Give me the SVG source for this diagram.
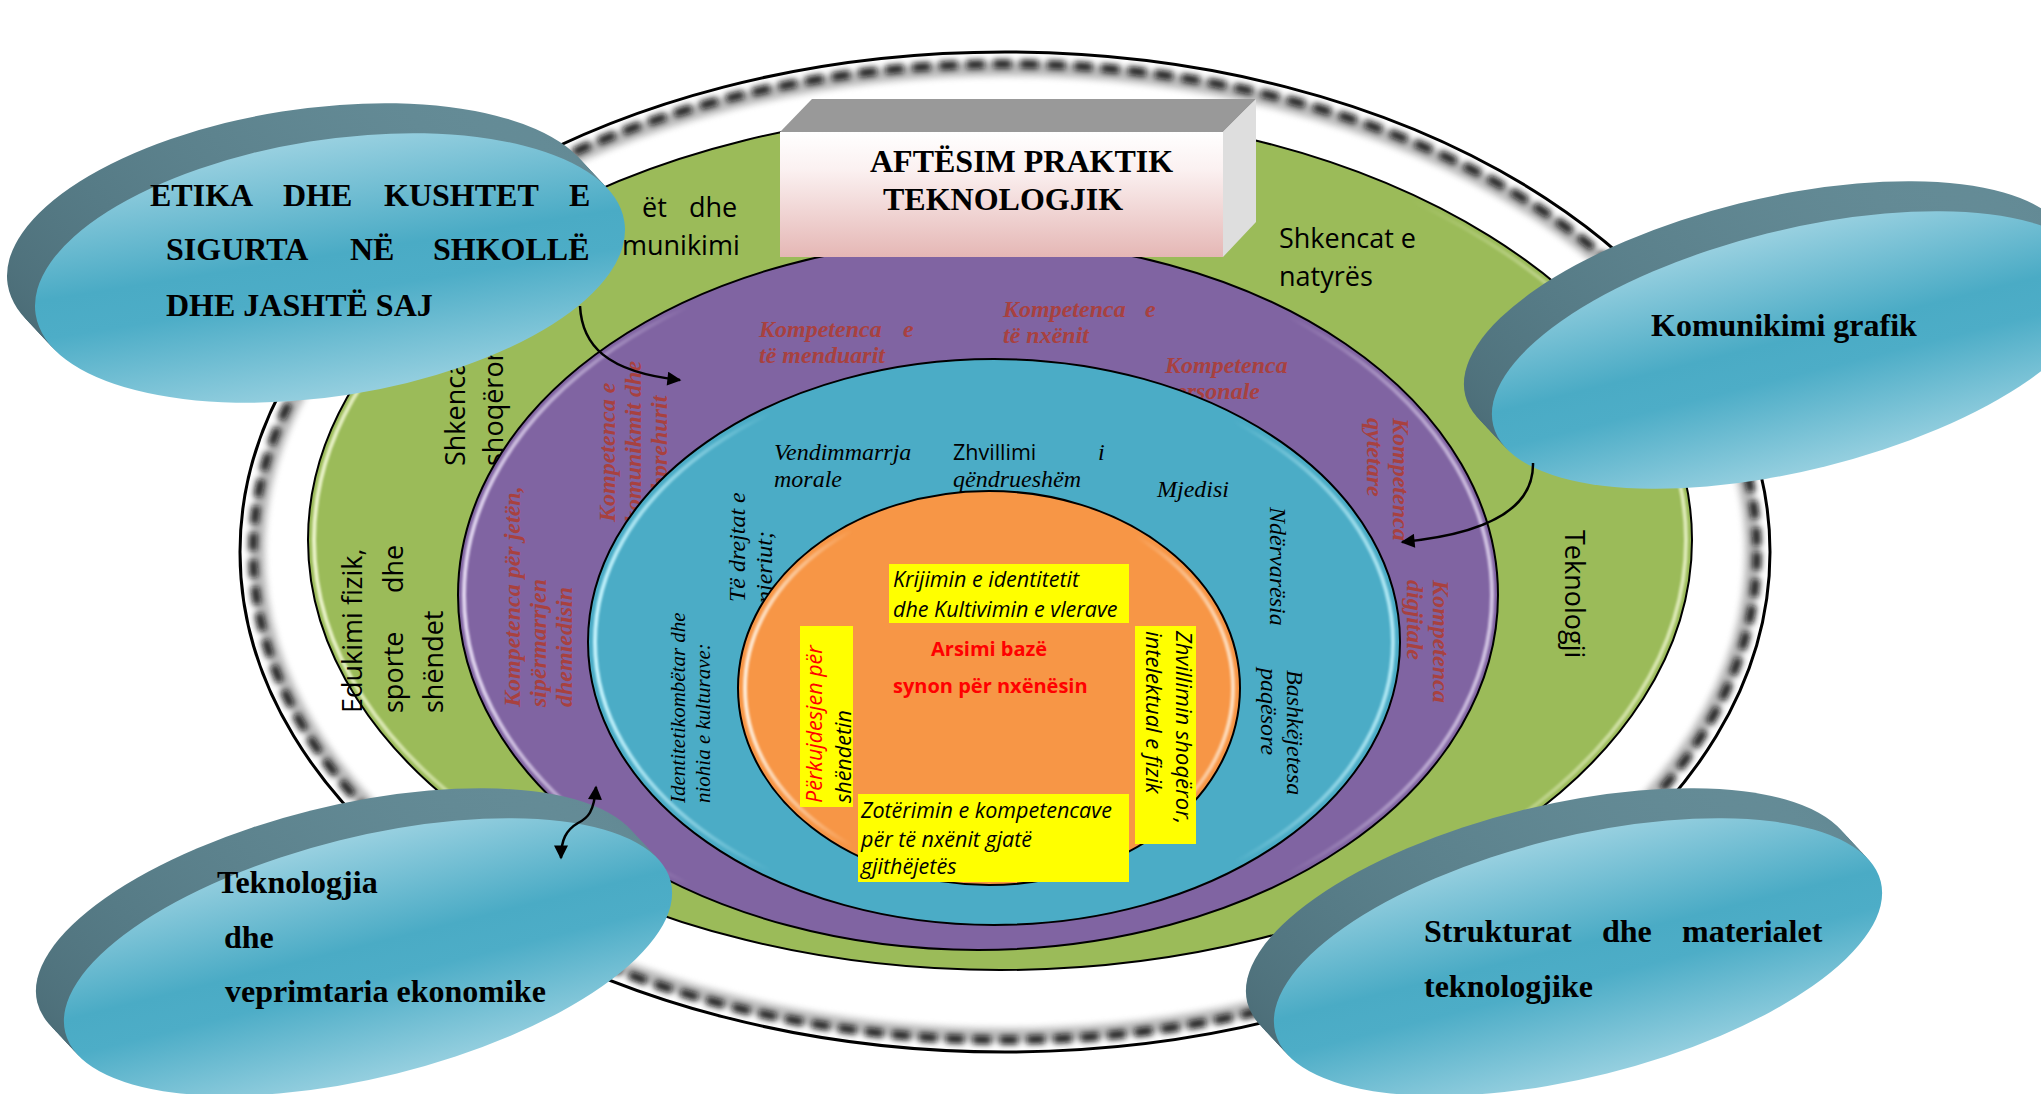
<svg xmlns="http://www.w3.org/2000/svg" width="2041" height="1094" viewBox="0 0 2041 1094">
<defs>
<style>
.bb{font-family:"Liberation Serif","Times New Roman",serif;font-weight:bold;font-size:32px;fill:#000}
.pk{font-family:"Liberation Serif","Times New Roman",serif;font-weight:bold;font-style:italic;font-size:24px;fill:#a8413f}
.bl{font-family:"Liberation Serif","Times New Roman",serif;font-style:italic;font-size:24px;fill:#000}
.bs{font-size:21px}
.gr{font-family:"Open Sans","Liberation Sans",sans-serif;font-size:27px;fill:#000}
.yi{font-family:"Open Sans","Liberation Sans",sans-serif;font-style:italic;font-size:21.5px;fill:#000}
.rc{font-family:"Open Sans","Liberation Sans",sans-serif;font-weight:bold;font-size:20px;fill:#ff0000}
.ring{stroke:#000;stroke-width:2}
.hl{fill:none;stroke-width:4}
.conn{fill:none;stroke:#000;stroke-width:2.5}
.yb{fill:#ffff00}
</style>
<filter id="blur1" x="-5%" y="-5%" width="110%" height="110%"><feGaussianBlur stdDeviation="1.2"/></filter>
<filter id="blur2" x="-5%" y="-5%" width="110%" height="110%"><feGaussianBlur stdDeviation="3"/></filter>
<linearGradient id="face" x1="0" y1="0" x2="0" y2="1">
<stop offset="0" stop-color="#98d0e0"/><stop offset="0.45" stop-color="#4aabc5"/><stop offset="0.6" stop-color="#4dadc7"/><stop offset="1" stop-color="#95cfdf"/>
</linearGradient>
<linearGradient id="side" x1="0" y1="1" x2="1" y2="0">
<stop offset="0" stop-color="#45646e"/><stop offset="0.5" stop-color="#567b86"/><stop offset="1" stop-color="#6a929d"/>
</linearGradient>
<linearGradient id="boxg" x1="0" y1="0" x2="0" y2="1">
<stop offset="0" stop-color="#ffffff"/><stop offset="0.3" stop-color="#fbf1f1"/><stop offset="1" stop-color="#e5b7b5"/>
</linearGradient>
<linearGradient id="hlG" x1="0" y1="0" x2="1" y2="0">
<stop offset="0" stop-color="#eef6cf" stop-opacity="0.95"/><stop offset="0.22" stop-color="#eef6cf" stop-opacity="0"/><stop offset="0.8" stop-color="#eef6cf" stop-opacity="0"/><stop offset="1" stop-color="#eef6cf" stop-opacity="0.8"/>
</linearGradient>
<linearGradient id="hlP" x1="0" y1="0" x2="1" y2="0">
<stop offset="0" stop-color="#e6dbf3" stop-opacity="0.95"/><stop offset="0.22" stop-color="#e6dbf3" stop-opacity="0"/><stop offset="0.8" stop-color="#e6dbf3" stop-opacity="0"/><stop offset="1" stop-color="#e6dbf3" stop-opacity="0.8"/>
</linearGradient>
<linearGradient id="hlB" x1="0" y1="0" x2="1" y2="0">
<stop offset="0" stop-color="#c8f6ff" stop-opacity="0.95"/><stop offset="0.22" stop-color="#c8f6ff" stop-opacity="0"/><stop offset="0.8" stop-color="#c8f6ff" stop-opacity="0"/><stop offset="1" stop-color="#c8f6ff" stop-opacity="0.8"/>
</linearGradient>
<linearGradient id="hlO" x1="0" y1="0" x2="1" y2="0">
<stop offset="0" stop-color="#fff0de" stop-opacity="0.95"/><stop offset="0.22" stop-color="#fff0de" stop-opacity="0"/><stop offset="0.8" stop-color="#fff0de" stop-opacity="0"/><stop offset="1" stop-color="#fff0de" stop-opacity="0.8"/>
</linearGradient>
<ellipse id="disk" cx="0" cy="0" rx="312" ry="120" transform="rotate(-14)"/>
<ellipse id="disk1" cx="0" cy="0" rx="298" ry="128" transform="rotate(-9)"/>
<g id="sidestack" fill="url(#side)">
<use href="#disk" x="-28" y="-30"/><use href="#disk" x="-24.5" y="-26.25"/><use href="#disk" x="-21" y="-22.5"/><use href="#disk" x="-17.5" y="-18.75"/><use href="#disk" x="-14" y="-15"/><use href="#disk" x="-10.5" y="-11.25"/><use href="#disk" x="-7" y="-7.5"/><use href="#disk" x="-3.5" y="-3.75"/>
</g>
<g id="sidestack1" fill="url(#side)">
<use href="#disk1" x="-28" y="-30"/><use href="#disk1" x="-24.5" y="-26.25"/><use href="#disk1" x="-21" y="-22.5"/><use href="#disk1" x="-17.5" y="-18.75"/><use href="#disk1" x="-14" y="-15"/><use href="#disk1" x="-10.5" y="-11.25"/><use href="#disk1" x="-7" y="-7.5"/><use href="#disk1" x="-3.5" y="-3.75"/>
</g>
<marker id="ah" viewBox="0 0 10 10" refX="9" refY="5" markerWidth="15" markerHeight="14" markerUnits="userSpaceOnUse" orient="auto-start-reverse">
<path d="M0,0 L10,5 L0,10 z" fill="#000"/>
</marker>
</defs>

<rect width="2041" height="1094" fill="#ffffff"/>

<g id="ring-outer">
<ellipse cx="1005" cy="552" rx="765" ry="500" fill="#ffffff" stroke="#000" stroke-width="3"/>
<ellipse cx="1005" cy="552" rx="747" ry="483" fill="none" stroke="#8a8a8a" stroke-width="14" filter="url(#blur2)" opacity="0.55"/>
<ellipse cx="1005" cy="552" rx="752" ry="488" fill="none" stroke="#111" stroke-width="8" stroke-dasharray="18 9" filter="url(#blur2)"/>
</g>

<g id="ring-green">
<ellipse class="ring" cx="1000" cy="540" rx="692" ry="430" fill="#9bbb59"/>
<ellipse class="hl" cx="1000" cy="540" rx="686" ry="424" stroke="url(#hlG)" filter="url(#blur1)"/>
<text class="gr" x="642" y="217">ët</text>
<text class="gr" x="689" y="217">dhe</text>
<text class="gr" x="622" y="255">munikimi</text>
<text class="gr" x="1279" y="248">Shkencat e</text>
<text class="gr" x="1279" y="286">natyrës</text>
<text class="gr" transform="translate(465,466) rotate(-90)">Shkencat</text>
<text class="gr" transform="translate(503,466) rotate(-90)">shoqërore</text>
<text class="gr" transform="translate(362,713) rotate(-90)">Edukimi fizik,</text>
<text class="gr" transform="translate(403,713) rotate(-90)">sporte</text>
<text class="gr" transform="translate(403,593) rotate(-90)">dhe</text>
<text class="gr" transform="translate(443,713) rotate(-90)">shëndet</text>
<text class="gr" transform="translate(1565,530) rotate(90)">Teknologji</text>
</g>

<g id="ring-purple">
<ellipse class="ring" cx="978" cy="595" rx="520" ry="355" fill="#8064a2"/>
<ellipse class="hl" cx="978" cy="595" rx="514" ry="349" stroke="url(#hlP)" filter="url(#blur1)"/>
<text class="pk" x="759" y="337">Kompetenca</text>
<text class="pk" x="903" y="337">e</text>
<text class="pk" x="759" y="363">të menduarit</text>
<text class="pk" x="1003" y="317">Kompetenca</text>
<text class="pk" x="1145" y="317">e</text>
<text class="pk" x="1003" y="343">të nxënit</text>
<text class="pk" x="1165" y="373">Kompetenca</text>
<text class="pk" x="1164" y="399">personale</text>
<text class="pk" transform="translate(1393,418) rotate(90)">Kompetenca</text>
<text class="pk" transform="translate(1367,418) rotate(90)">qytetare</text>
<text class="pk" transform="translate(1433,580) rotate(90)">Kompetenca</text>
<text class="pk" transform="translate(1407,580) rotate(90)">digjitale</text>
<text class="pk" transform="translate(615,522) rotate(-90)">Kompetenca e</text>
<text class="pk" transform="translate(641,523) rotate(-90)">komunikmit dhe</text>
<text class="pk" transform="translate(667,523) rotate(-90)">të shprehurit</text>
<text class="pk" transform="translate(520,707) rotate(-90)">Kompetenca për jetën,</text>
<text class="pk" transform="translate(546,707) rotate(-90)">sipërmarrjen</text>
<text class="pk" transform="translate(572,707) rotate(-90)">dhemiedisin</text>
</g>

<g id="ring-blue">
<ellipse class="ring" cx="994" cy="642" rx="406" ry="283" fill="#4bacc6"/>
<ellipse class="hl" cx="994" cy="642" rx="399" ry="276" stroke="url(#hlB)" filter="url(#blur1)"/>
<text class="bl" x="774" y="460">Vendimmarrja</text>
<text class="bl" x="774" y="487">morale</text>
<text class="gr" style="font-size:21.5px" x="953" y="460">Zhvillimi</text>
<text class="bl" x="1098" y="460">i</text>
<text class="bl" x="953" y="487">qëndrueshëm</text>
<text class="bl" x="1157" y="497">Mjedisi</text>
<text class="bl" transform="translate(1270,507) rotate(90)">Ndërvarësia</text>
<text class="bl" transform="translate(1287,670) rotate(90)">Bashkëjetesa</text>
<text class="bl" transform="translate(1261,668) rotate(90)">paqësore</text>
<text class="bl" transform="translate(745,602) rotate(-90)">Të drejtat e</text>
<text class="bl" transform="translate(772,603) rotate(-90)">njeriut;</text>
<text class="bl bs" transform="translate(685,803) rotate(-90)">Identitetikombëtar dhe</text>
<text class="bl bs" transform="translate(710,803) rotate(-90)">niohia e kulturave:</text>
</g>

<g id="ring-orange">
<ellipse class="ring" cx="989" cy="688" rx="251" ry="197" fill="#f79646"/>
<ellipse class="hl" cx="989" cy="688" rx="244" ry="190" stroke="url(#hlO)" filter="url(#blur1)"/>
<text class="rc" x="931" y="656">Arsimi bazë</text>
<text class="rc" x="893" y="693">synon për nxënësin</text>
</g>

<g id="box-krijimin">
<rect class="yb" x="889" y="564" width="240" height="59"/>
<text class="yi" x="893" y="587">Krijimin e identitetit</text>
<text class="yi" x="893" y="617">dhe Kultivimin e vlerave</text>
</g>
<g id="box-perkujdesjen">
<rect class="yb" x="800" y="626" width="53" height="181"/>
<text class="yi" style="fill:#ff0000" transform="translate(822,803) rotate(-90)">Përkujdesjen për</text>
<text class="yi" transform="translate(851,803) rotate(-90)">shëndetin</text>
</g>
<g id="box-zhvillimin">
<rect class="yb" x="1135" y="626" width="61" height="218"/>
<text class="yi" style="font-size:22px" transform="translate(1176,631) rotate(90)">Zhvillimin shoqëror,</text>
<text class="yi" style="font-size:22px" transform="translate(1146,631) rotate(90)">intelektual e fizik</text>
</g>
<g id="box-zoterimin">
<rect class="yb" x="858" y="794" width="271" height="88"/>
<text class="yi" x="861" y="818">Zotërimin e kompetencave</text>
<text class="yi" x="861" y="847">për të nxënit gjatë</text>
<text class="yi" x="861" y="874">gjithëjetës</text>
</g>

<g id="title-box">
<polygon points="780,132 812,99 1256,99 1223,132" fill="#999999"/>
<polygon points="1223,132 1256,99 1256,222 1223,257" fill="#dedede"/>
<rect x="780" y="132" width="443" height="125" fill="url(#boxg)"/>
<text class="bb" x="870" y="172">AFTËSIM PRAKTIK</text>
<text class="bb" x="883" y="210">TEKNOLOGJIK</text>
</g>

<g id="bubble-etika">
<use href="#sidestack1" x="330" y="268"/>
<use href="#disk1" x="330" y="268" fill="url(#face)"/>
<text class="bb" x="150" y="206">ETIKA</text>
<text class="bb" x="283" y="206">DHE</text>
<text class="bb" x="384" y="206">KUSHTET</text>
<text class="bb" x="569" y="206">E</text>
<text class="bb" x="166" y="260">SIGURTA</text>
<text class="bb" x="350" y="260">NË</text>
<text class="bb" x="433" y="260">SHKOLLË</text>
<text class="bb" x="166" y="316">DHE JASHTË SAJ</text>
</g>

<g id="bubble-grafik">
<use href="#sidestack" x="1796" y="350"/>
<use href="#disk" x="1796" y="350" fill="url(#face)"/>
<text class="bb" x="1651" y="336">Komunikimi grafik</text>
</g>

<g id="bubble-ekonomike">
<use href="#sidestack" x="368" y="957"/>
<use href="#disk" x="368" y="957" fill="url(#face)"/>
<text class="bb" x="217" y="893">Teknologjia</text>
<text class="bb" x="224" y="948">dhe</text>
<text class="bb" x="225" y="1002">veprimtaria ekonomike</text>
</g>

<g id="bubble-strukturat">
<use href="#sidestack" x="1578" y="957"/>
<use href="#disk" x="1578" y="957" fill="url(#face)"/>
<text class="bb" x="1424" y="942">Strukturat</text>
<text class="bb" x="1602" y="942">dhe</text>
<text class="bb" x="1682" y="942">materialet</text>
<text class="bb" x="1424" y="997">teknologjike</text>
</g>

<g id="connectors">
<path class="conn" d="M580,306 C582,345 606,372 680,380" marker-end="url(#ah)"/>
<path class="conn" d="M1533,463 C1534,505 1495,533 1402,542" marker-end="url(#ah)"/>
<path class="conn" d="M596,787 C594,812 588,818 578,823 C566,830 561,840 561,858" marker-start="url(#ah)" marker-end="url(#ah)"/>
</g>
</svg>
